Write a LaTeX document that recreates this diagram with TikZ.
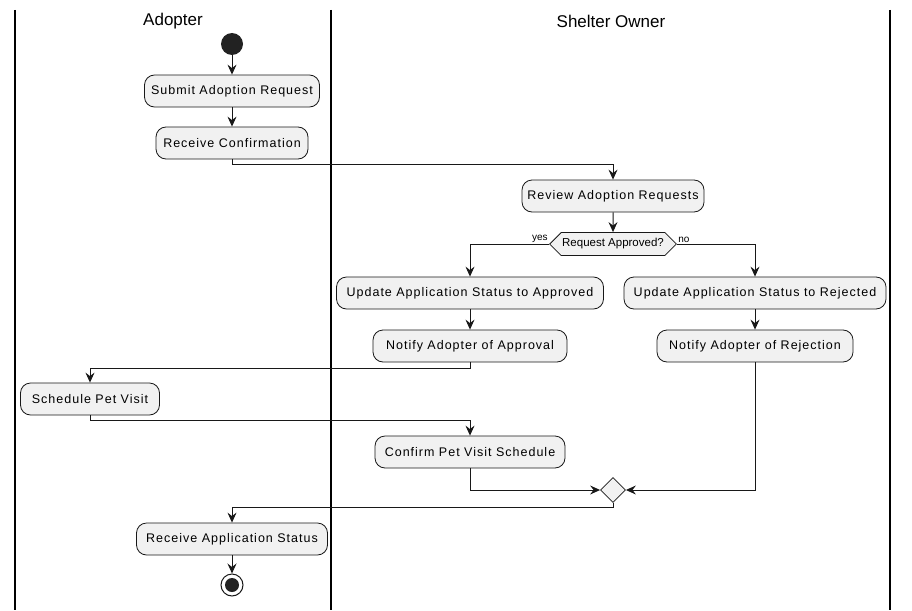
\documentclass[tikz,border=0pt]{standalone}
\usepackage{fontspec}
\setmainfont{Liberation Sans}
\newfontfamily\boxfont[LetterSpace=8]{Liberation Sans}
\usepackage{tikz}
\usetikzlibrary{arrows.meta}
\usetikzlibrary{shapes.geometric}
\usetikzlibrary{shapes.symbols}
\definecolor{boxfill}{HTML}{F1F1F1}
\definecolor{linecol}{HTML}{181818}
\definecolor{dotcol}{HTML}{222222}

\begin{document}
\begin{tikzpicture}[x=1pt,y=-1pt,
    activity/.style={draw=linecol,fill=boxfill,rounded corners=10pt,line width=0.8pt,
      minimum height=32pt,inner sep=0pt,font=\boxfont\fontsize{12.5}{14}\selectfont},
    flow/.style={draw=linecol,line width=1pt,-{Stealth[length=10pt,width=9pt,inset=3.5pt]}},
    lane/.style={black,line width=1.4pt},
    title/.style={font=\fontsize{17}{20}\selectfont}]
  \useasboundingbox (0,0) rectangle (912,610);
%% swimlanes
  \draw [lane] (15,10) -- (15,610);
  \draw [lane] (331,10) -- (331,610);
  \draw [lane] (890,10) -- (890,610);
  \node [title] (adopter) at (173,21) {Adopter};
  \node [title] (owner) at (611,21) {Shelter Owner};
%% activities
  \node [circle,fill=dotcol,minimum size=22pt,inner sep=0pt] (start) at (232,44) {};
  \node [activity,minimum width=175pt] (submit) at (232,91) {Submit Adoption Request};
  \node [activity,minimum width=152pt] (confirm) at (232,143) {Receive Confirmation};
  \node [activity,minimum width=182pt] (review) at (613,196) {Review Adoption Requests};
  \node [signal,signal to=west and east,signal pointer angle=90,draw=linecol,fill=boxfill,
    line width=0.8pt,minimum height=23pt,minimum width=125pt,inner sep=1pt,
    font=\fontsize{11.5}{13}\selectfont] (approved) at (613,244) {Request Approved?};
  \node [activity,minimum width=267pt] (setok) at (470,293) {Update Application Status to Approved};
  \node [activity,minimum width=262pt] (setno) at (755,293) {Update Application Status to Rejected};
  \node [activity,minimum width=194pt] (tellok) at (470,346) {Notify Adopter of Approval};
  \node [activity,minimum width=196pt] (tellno) at (755,346) {Notify Adopter of Rejection};
  \node [activity,minimum width=139pt] (visit) at (90,399) {Schedule Pet Visit};
  \node [activity,minimum width=190pt] (visitok) at (470,452) {Confirm Pet Visit Schedule};
  \node [diamond,draw=linecol,fill=boxfill,line width=0.8pt,minimum size=25pt,inner sep=0pt] (merge) at (613,490) {};
  \node [activity,minimum width=191pt] (status) at (232,539) {Receive Application Status};
  \node [circle,draw=linecol,line width=1pt,fill=white,minimum size=22pt,inner sep=0pt] (stop) at (232,585) {};
  \node [circle,fill=dotcol,minimum size=14pt,inner sep=0pt] (stopdot) at (232,585) {};
%% flows
  \draw [flow] (start) -- (submit);
  \draw [flow] (submit) -- (confirm);
  \draw [flow] (confirm.south) -- ++(0,5) -| (review.north);
  \draw [flow] (review) -- (approved);
  \draw [flow] (approved.west) -| (setok.north) node [pos=0,above left,inner sep=1pt,font=\fontsize{10}{12}\selectfont] {yes};
  \draw [flow] (approved.east) -| (setno.north) node [pos=0,above right,inner sep=1pt,font=\fontsize{10}{12}\selectfont] {no};
  \draw [flow] (setok) -- (tellok);
  \draw [flow] (setno) -- (tellno);
  \draw [flow] (tellok.south) -- ++(0,6) -| (visit.north);
  \draw [flow] (visit.south) -- ++(0,5) -| (visitok.north);
  \draw [flow] (visitok.south) |- (merge.west);
  \draw [flow] (tellno.south) |- (merge.east);
  \draw [flow] (merge.south) -- ++(0,5) -| (status.north);
  \draw [flow] (status) -- (stop);
\end{tikzpicture}
\end{document}
